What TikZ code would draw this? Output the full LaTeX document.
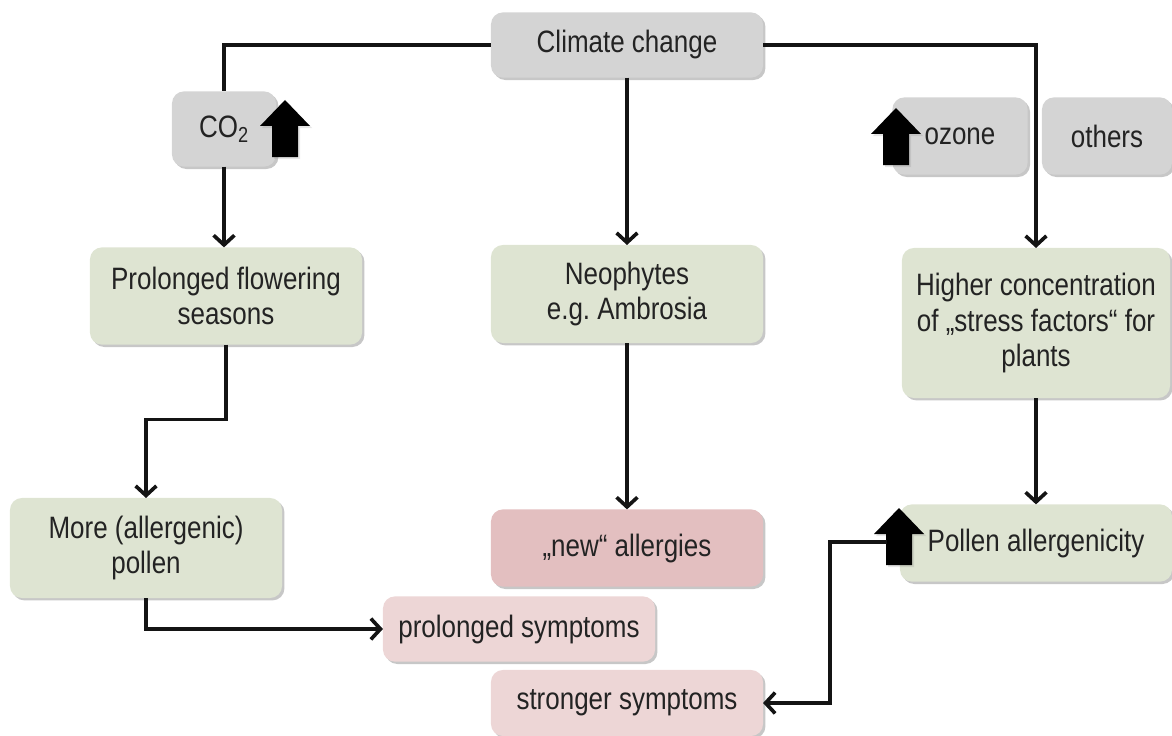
\documentclass[tikz,border=0pt]{standalone}
\usepackage{fontspec}
\setmainfont{Liberation Sans}[FakeStretch=0.84]
\usetikzlibrary{arrows.meta,shadows}

\definecolor{boxgrey}{RGB}{212,212,212}
\definecolor{boxgreen}{RGB}{222,228,210}
\definecolor{boxrose}{RGB}{227,191,192}
\definecolor{boxpink}{RGB}{237,214,214}
\definecolor{txtgrey}{RGB}{35,35,35}
\definecolor{linegrey}{RGB}{20,20,20}

\tikzset{
  box/.style={rounded corners=0.3cm, inner sep=0pt, outer sep=0pt, align=center,
    text=txtgrey, font=\fontsize{22}{25}\selectfont,
    minimum width=6.8cm, minimum height=1.93cm,
    drop shadow={shadow xshift=0.06cm, shadow yshift=-0.06cm, opacity=0.22, fill=black}},
  greybox/.style={box, fill=boxgrey},
  greenbox/.style={box, fill=boxgreen},
  rosebox/.style={box, fill=boxrose},
  pinkbox/.style={box, fill=boxpink},
  flow/.style={line width=2.6pt, draw=linegrey, -{Straight Barb[length=2.4mm,width=5.2mm]}},
  link/.style={line width=2.6pt, draw=linegrey},
  pics/uparrow/.style={code={
    \fill[black, drop shadow={shadow xshift=0.05cm, shadow yshift=-0.05cm, opacity=0.2}]
      (-13,0) -- (-13,-31) -- (-25,-31) -- (0,-57) -- (25,-31) -- (13,-31) -- (13,0) -- cycle;
  }}
}

\begin{document}
\begin{tikzpicture}[x=0.025cm, y=-0.025cm]
  \useasboundingbox (0,0) rectangle (1172,736);

  % top row
  \node[greybox, minimum height=1.63cm] (climate) at (627,45) {Climate change};
  \node[greybox, minimum width=2.6cm, minimum height=1.88cm] (co2) at (224,129) {CO\textsubscript{2}};
  \node[greybox, minimum width=3.38cm] (ozone) at (960,136) {ozone};
  \node[greybox, minimum width=3.25cm] (others) at (1107,136) {others};

  % second row
  \node[greenbox, minimum height=2.43cm] (flower) at (226,296) {Prolonged flowering\\seasons};
  \node[greenbox, minimum height=2.45cm] (neo) at (627,294) {Neophytes\\e.g.\ Ambrosia};
  \node[greenbox, minimum width=6.7cm, minimum height=3.75cm] (higher) at (1036,323)
    {Higher concentration\\of „stress factors“ for\\plants};

  % lower rows
  \node[greenbox, minimum height=2.5cm] (more) at (146,548) {More (allergenic)\\pollen};
  \node[rosebox] (newall) at (627,548) {„new“ allergies};
  \node[greenbox] (pollen) at (1036,543) {Pollen allergenicity};
  \node[pinkbox, minimum height=1.63cm] (prolsym) at (519,629) {prolonged symptoms};
  \node[pinkbox, minimum height=1.65cm] (strongsym) at (627,703) {stronger symptoms};

  % increase markers
  \pic at (285,157) {uparrow};
  \pic at (896,165) {uparrow};
  \pic at (899,565) {uparrow};
  \coordinate (pollenup) at (887,542);

  % connectors
  \draw[link] (climate.west) -| (co2.north);
  \draw[flow] (co2.south) -- (co2.south |- flower.north);
  \draw[flow] (climate.south) -- (neo.north);
  \draw[flow] (climate.east) -| (higher.north);
  \draw[flow] (flower.south) -- ++(0,75) -| (more.north);
  \draw[flow] (more.south) |- (prolsym.west);
  \draw[flow] (neo.south) -- (newall.north);
  \draw[flow] (higher.south) -- (pollen.north);
  \draw[flow] (pollenup) -- ++(-57,0) |- (strongsym.east);
\end{tikzpicture}
\end{document}
